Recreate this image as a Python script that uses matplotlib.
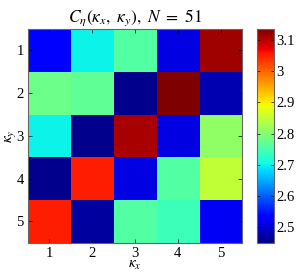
import numpy as np
import matplotlib
matplotlib.use("Agg")
import matplotlib.pyplot as plt

plt.rcParams["font.family"] = "Liberation Serif"
plt.rcParams["mathtext.fontset"] = "stix"

kx = [1, 2, 3, 4, 5]
ky = [1, 2, 3, 4, 5]
# rows: kappa_y = 1..5, columns: kappa_x = 1..5
row1 = [2.535, 2.70, 2.76, 2.51, 3.115]
row2 = [2.78, 2.77, 2.46, 3.135, 2.48]
row3 = [2.70, 2.46, 3.11, 2.51, 2.81]
row4 = [2.46, 3.05, 2.51, 2.76, 2.85]
row5 = [3.05, 2.47, 2.76, 2.74, 2.52]
cbar_ticks = [2.5, 2.6, 2.7, 2.8, 2.9, 3.0, 3.1]
cbar_labels = ["2.5", "2.6", "2.7", "2.8", "2.9", "3", "3.1"]

C = np.array([row1, row2, row3, row4, row5])

fig = plt.figure(figsize=(3.01, 2.76), dpi=100)
ax = fig.add_axes([0.093, 0.120, 0.711, 0.775])
cax = fig.add_axes([0.854, 0.120, 0.056, 0.775])

im = ax.imshow(C, cmap="jet", vmin=2.45, vmax=3.135, aspect="auto",
               extent=[kx[0] - 0.5, kx[-1] + 0.5, ky[-1] + 0.5, ky[0] - 0.5],
               interpolation="nearest")
ax.set_xticks(kx)
ax.set_yticks(ky)
ax.tick_params(direction="in", length=3, width=0.5, labelsize=10.5, pad=3,
               top=True, right=True)
ax.set_xlabel(r"$\kappa_x$", fontsize=11, labelpad=-1)
ax.set_ylabel(r"$\kappa_y$", fontsize=11, labelpad=-1)
ax.set_title(r"$C_\eta(\kappa_x,\ \kappa_y),\ N\ =\ 51$", fontsize=12.5, pad=5)
for s in ax.spines.values():
    s.set_color("#666666")
    s.set_linewidth(0.8)

cb = fig.colorbar(im, cax=cax)
cb.set_ticks(cbar_ticks)
cb.set_ticklabels(cbar_labels)
cax.tick_params(direction="in", length=2, width=0.5, labelsize=10.5, pad=2,
                left=True, right=True)
cb.outline.set_edgecolor("#666666")
cb.outline.set_linewidth(0.8)

fig.savefig("out.png", dpi=100)
